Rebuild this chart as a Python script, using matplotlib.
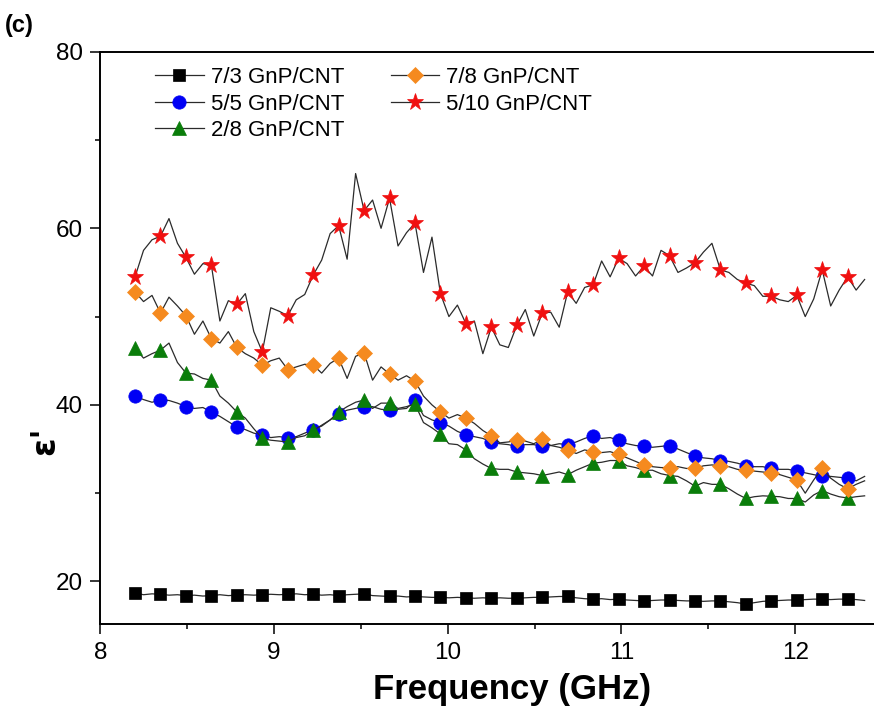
import numpy as np
import matplotlib
matplotlib.use("Agg")
import matplotlib.pyplot as plt
from matplotlib.ticker import MultipleLocator

plt.rcParams['font.family'] = ['Liberation Sans', 'DejaVu Sans']

# frequency grid (GHz): 87 samples between 8.2 and 12.4 GHz, markers every 3rd sample
freq = np.linspace(8.2, 12.4, 87)

eps_73 = [18.7, 18.5, 18.6, 18.55, 18.45, 18.5, 18.4, 18.45, 18.35, 18.4, 18.5, 18.4,
          18.45, 18.5, 18.45, 18.5, 18.55, 18.5, 18.55, 18.6, 18.5, 18.55, 18.45, 18.5,
          18.4, 18.5, 18.55, 18.6, 18.4, 18.35, 18.3, 18.35, 18.25, 18.3, 18.25, 18.2,
          18.2, 18.15, 18.2, 18.15, 18.1, 18.15, 18.1, 18.15, 18.1, 18.1, 18.15, 18.2,
          18.2, 18.25, 18.3, 18.3, 18.15, 18.05, 18.0, 18.05, 17.95, 18.0, 17.9, 17.85,
          17.8, 17.85, 17.9, 17.9, 17.85, 17.8, 17.8, 17.75, 17.8, 17.8, 17.7, 17.6,
          17.45, 17.6, 17.75, 17.8, 17.85, 17.9, 17.9, 17.95, 18.0, 18.0, 17.95, 18.0,
          18.0, 17.95, 17.85]

eps_55 = [41.0, 40.6, 40.3, 40.55, 40.5, 40.2, 39.8, 39.6, 39.7, 39.2, 38.7, 38.1,
          37.5, 37.2, 36.8, 36.6, 36.3, 36.4, 36.3, 36.4, 36.8, 37.2, 37.6, 38.3,
          39.0, 39.4, 39.6, 39.8, 39.8, 39.5, 39.4, 39.5, 39.6, 40.5, 38.8, 38.3,
          38.0, 37.6, 37.0, 36.6, 36.4, 36.2, 35.8, 35.6, 35.5, 35.3, 35.5, 35.5,
          35.3, 35.4, 35.6, 35.5, 35.8, 36.2, 36.5, 36.2, 36.3, 36.0, 35.6, 35.4,
          35.3, 35.2, 35.3, 35.4, 35.0, 34.6, 34.2, 34.0, 33.9, 33.7, 33.6, 33.4,
          33.1, 33.0, 33.0, 32.8, 32.7, 32.7, 32.5, 32.3, 32.1, 31.9, 31.9, 31.8,
          31.7, 31.4, 31.9]

eps_28 = [46.4, 45.3, 45.8, 46.2, 47.0, 44.8, 43.6, 43.5, 43.0, 42.8, 41.0, 40.2,
          39.2, 38.5, 37.3, 36.2, 36.0, 35.9, 35.8, 36.3, 36.5, 37.1, 37.7, 38.3,
          39.2, 39.8, 40.3, 40.55, 39.6, 40.2, 40.2, 39.6, 39.8, 40.1, 38.0, 37.4,
          36.7, 35.6, 35.5, 34.9, 33.9, 33.3, 32.8, 32.7, 32.7, 32.4, 32.3, 32.2,
          32.0, 32.2, 32.4, 32.1, 32.6, 33.0, 33.4, 33.5, 33.7, 33.7, 33.1, 32.9,
          32.6, 32.6, 32.2, 32.0, 31.9, 31.4, 30.8, 31.2, 31.0, 31.0, 30.5, 29.9,
          29.4, 29.6, 29.7, 29.65, 29.6, 29.4, 29.4, 29.0, 29.8, 30.3, 29.9, 29.6,
          29.45, 29.6, 29.7]

eps_78 = [52.8, 51.7, 52.4, 50.4, 52.2, 51.2, 50.1, 48.0, 49.5, 47.5, 47.0, 48.3,
          46.5, 45.8, 45.3, 44.5, 45.0, 45.3, 44.0, 44.3, 44.6, 44.5, 43.6, 44.7,
          45.3, 43.0, 45.5, 45.9, 42.8, 44.3, 43.5, 42.8, 43.3, 42.7, 41.0, 40.0,
          39.2, 38.5, 38.9, 38.5, 37.9, 37.1, 36.5, 35.7, 35.8, 36.0, 35.9, 35.6,
          36.1, 35.4, 35.2, 34.9, 34.5, 34.9, 34.7, 34.6, 34.7, 34.4, 34.0, 33.6,
          33.2, 33.0, 32.9, 32.9, 33.0, 32.8, 32.8, 33.1, 33.2, 33.1, 33.0, 32.7,
          32.6, 32.5, 32.4, 32.3, 32.1, 31.8, 31.5, 30.0, 31.5, 32.8, 31.7, 31.0,
          30.5, 31.0, 31.4]

eps_510 = [54.5, 57.5, 58.7, 59.1, 61.1, 58.3, 56.7, 54.8, 56.0, 55.8, 49.5, 51.8,
           51.4, 52.6, 48.3, 46.0, 51.0, 50.6, 50.1, 51.9, 52.5, 54.7, 56.4, 59.4,
           60.3, 56.5, 66.2, 62.0, 63.2, 60.0, 63.4, 58.0, 59.5, 60.6, 55.0, 59.0,
           52.6, 50.0, 51.3, 49.2, 49.5, 45.8, 48.8, 46.8, 46.5, 49.0, 50.8, 47.8,
           50.4, 50.5, 48.8, 52.8, 51.5, 53.3, 53.6, 56.3, 54.5, 56.6, 56.0, 54.6,
           55.7, 54.6, 57.5, 56.9, 55.0, 55.5, 56.1, 57.3, 58.3, 55.3, 55.0, 54.2,
           53.8, 53.5, 52.3, 52.3, 51.9, 51.7, 52.4, 50.0, 52.0, 55.3, 51.2, 53.0,
           54.5, 53.0, 54.2]

labels = ["7/3 GnP/CNT", "5/5 GnP/CNT", "2/8 GnP/CNT", "7/8 GnP/CNT", "5/10 GnP/CNT"]
series = [eps_73, eps_55, eps_28, eps_78, eps_510]
markers = ['s', 'o', '^', 'D', '*']
msizes = [8.8, 9.6, 10.5, 8.4, 12.5]
colors = ['#000000', '#0000F5', '#0A7D0A', '#F58A1F', '#F01010']

fig = plt.figure(figsize=(8.74, 7.19), dpi=100)
ax = fig.add_axes([100.3 / 874, 1 - 624.3 / 719, 1 - 100.3 / 874, (624.3 - 51.7) / 719])

handles = []
for y, lab, m, ms, c in zip(series, labels, markers, msizes, colors):
    h, = ax.plot(freq, y, color='#2b2b2b', lw=0.9, marker=m, markersize=ms,
                 markerfacecolor=c, markeredgecolor=c, markeredgewidth=0.5,
                 markevery=3, label=lab)
    handles.append(h)

ax.set_xlim(8, 12.454)
ax.set_ylim(15.15, 80)
ax.xaxis.set_major_locator(MultipleLocator(1))
ax.xaxis.set_minor_locator(MultipleLocator(0.5))
ax.yaxis.set_major_locator(MultipleLocator(20))
ax.yaxis.set_minor_locator(MultipleLocator(10))
ax.tick_params(which='major', direction='out', length=7.5, width=1.1, labelsize=17.5, pad=5)
ax.tick_params(which='minor', direction='out', length=3.8, width=1.1)
ax.tick_params(top=False, right=False)
for s in ['left', 'bottom', 'top']:
    ax.spines[s].set_linewidth(1.4)
ax.spines['right'].set_visible(False)

ax.set_xlabel('Frequency (GHz)', fontsize=25, fontweight='bold')
ax.xaxis.set_label_coords(0.532, -0.085)
ax.set_ylabel("ε'", fontsize=24, fontweight='bold', family=['DejaVu Sans'])
ax.yaxis.set_label_coords(-0.05, 0.32)

leg = ax.legend(handles=handles, ncol=2, frameon=False, fontsize=16,
                loc='upper left', bbox_to_anchor=(155 / 874, 1 - 67 / 719),
                bbox_transform=fig.transFigure, borderpad=0, borderaxespad=0,
                handlelength=2.2, handletextpad=0.3, labelspacing=0.25,
                columnspacing=2.1)

fig.text(5 / 874, 1 - 32 / 719, '(c)', fontsize=17, fontweight='bold')

fig.savefig('out.png', dpi=100)
